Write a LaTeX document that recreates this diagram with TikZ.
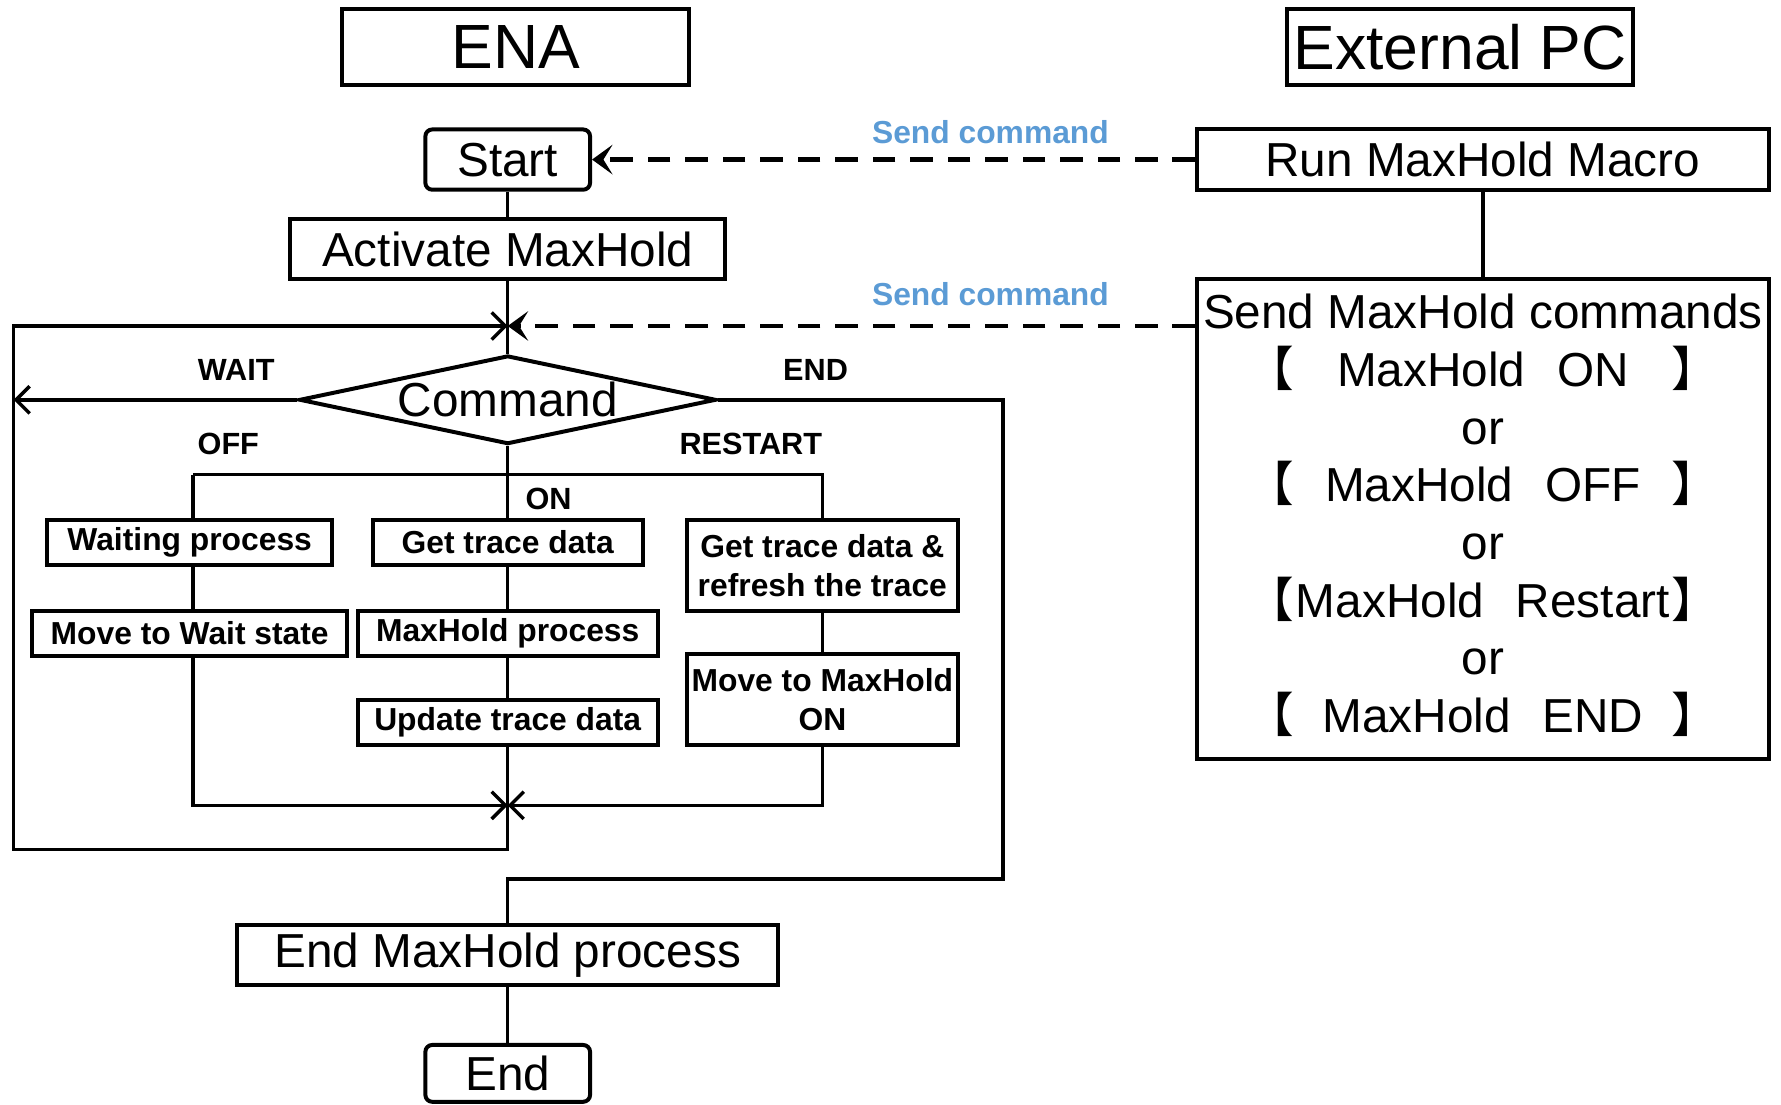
\documentclass[tikz,border=0pt]{standalone}
\usepackage{fontspec}
\setmainfont{Liberation Sans}
\newfontfamily\cjkfont{Noto Sans CJK SC}
\usetikzlibrary{arrows.meta,shapes.geometric}

\definecolor{cmdblue}{RGB}{91,155,213}
\newcommand{\bracketline}[1]{\makebox[208pt]{{\cjkfont 【}\hfill#1\hfill{\cjkfont 】}}}

\tikzset{
  box/.style={draw,line width=1.75pt,inner sep=0pt,font=\fontsize{21}{25.4}\selectfont},
  headbox/.style={draw,line width=1.75pt,inner sep=0pt,minimum width=152.5pt,minimum height=33.5pt,font=\fontsize{27.5}{30}\selectfont},
  stepbox/.style={draw,line width=1.75pt,inner sep=0pt,minimum height=20pt,align=center,font=\fontsize{14}{17}\selectfont\bfseries},
  branchlab/.style={font=\fontsize{13.5}{16}\selectfont\bfseries},
  sendlab/.style={text=cmdblue,font=\fontsize{14}{16}\selectfont\bfseries},
  flow/.style={line width=1.5pt},
  joinarrow/.style={-{Straight Barb[length=6pt,width=12pt]}},
  cmdline/.style={line width=2pt,dash pattern=on 10pt off 6.5pt,-{Stealth[length=9pt,width=13pt,inset=4pt]}}
}

\begin{document}
\begin{tikzpicture}[x=0.5pt,y=-0.5pt]
  \useasboundingbox (0,0) rectangle (1568,972);

  % headers
  \node (ena) at (454,41.5) [headbox] {ENA};
  \node (pc) at (1285.5,41.5) [headbox] {External PC};

  % ENA side
  \node (start) at (447,140.5) [box,rounded corners=3pt,minimum width=72.5pt,minimum height=26.5pt] {Start};
  \node (act) at (447,219.5) [box,minimum width=191.5pt,minimum height=26.5pt] {Activate MaxHold};
  \node (cmd) at (447,352) [diamond,draw,line width=1.75pt,inner sep=0pt,aspect=4.7,minimum width=183.5pt,minimum height=39pt,font=\fontsize{21}{25}\selectfont] {\raisebox{-2pt}{Command}};

  \node (wait1) at (167,477.5) [stepbox,minimum width=125.5pt] {Waiting process};
  \node (wait2) at (167,557.5) [stepbox,minimum width=138.5pt] {Move to Wait state};
  \node (on1) at (447,477.5) [stepbox,minimum width=119pt] {Get trace data};
  \node (on2) at (447,557.5) [stepbox,minimum width=132pt] {MaxHold process};
  \node (on3) at (447,636) [stepbox,minimum width=132pt] {Update trace data};
  \node (re1) at (724,498) [stepbox,minimum width=119.5pt,minimum height=40pt] {Get trace data \&\\refresh the trace};
  \node (re2) at (724,616) [stepbox,minimum width=119.5pt,minimum height=40pt] {Move to MaxHold\\ON};

  \node (endp) at (447,841) [box,minimum width=238pt,minimum height=26.5pt] {End MaxHold process};
  \node (endn) at (447,945) [box,rounded corners=3pt,minimum width=72.5pt,minimum height=25pt] {End};

  \node (lwait) at (208,326) [branchlab] {WAIT};
  \node (lend) at (718,326) [branchlab] {END};
  \node (loff) at (201,391) [branchlab] {OFF};
  \node (lrestart) at (661,391) [branchlab] {RESTART};
  \node (lon) at (483,439) [branchlab] {ON};

  % External PC side
  \node (run) at (1305.5,140.5) [box,minimum width=251.5pt,minimum height=26.5pt] {Run MaxHold Macro};
  \node (send) at (1305.5,457) [box,minimum width=251.5pt,minimum height=211pt] {\raisebox{2.5pt}{\begin{tabular}{@{}c@{}}Send MaxHold commands\\
    \bracketline{MaxHold\hspace{14pt}ON}\\ or\\
    \bracketline{MaxHold\hspace{14pt}OFF}\\ or\\
    \bracketline{MaxHold\hspace{14pt}Restart}\\ or\\
    \bracketline{MaxHold\hspace{14pt}END}\end{tabular}}};

  \node (send1) at (872,116) [sendlab] {Send command};
  \node (send2) at (872,259) [sendlab] {Send command};

  \coordinate (top) at (447,287);
  \coordinate (bot) at (447,709);
  \coordinate (loopbl) at (12,748);
  \coordinate (offbar) at (170,418);
  \coordinate (rebar) at (724,418);
  \coordinate (endturn) at (883,774);

  % connectors
  \draw[flow] (start) -- (act);
  \draw[flow] (act) -- (cmd);
  \draw[flow,joinarrow] (bot) |- (loopbl) |- (top);
  \draw[flow,joinarrow] (cmd.west) -- (cmd.west -| loopbl);
  \draw[flow] (cmd.east) -| (endturn) -| (endp.north);
  \draw[flow] (cmd) -- (on1);
  \draw[flow] (offbar) -- (rebar) -- (re1);
  \draw[flow] (offbar) -- (offbar |- wait1.north);
  \draw[flow] (offbar |- wait1.south) -- (offbar |- wait2.north);
  \draw[flow] (on1) -- (on2);
  \draw[flow] (on2) -- (on3);
  \draw[flow] (on3) -- (bot);
  \draw[flow] (re1) -- (re2);
  \draw[flow,joinarrow] (offbar |- wait2.south) |- (bot);
  \draw[flow,joinarrow] (re2) |- (bot);
  \draw[flow] (endp) -- (endn);

  \draw[flow] (run) -- (send);
  \draw[cmdline] (run) -- (start);
  \draw[cmdline] (send.west |- top) -- (top);

\end{tikzpicture}
\end{document}
